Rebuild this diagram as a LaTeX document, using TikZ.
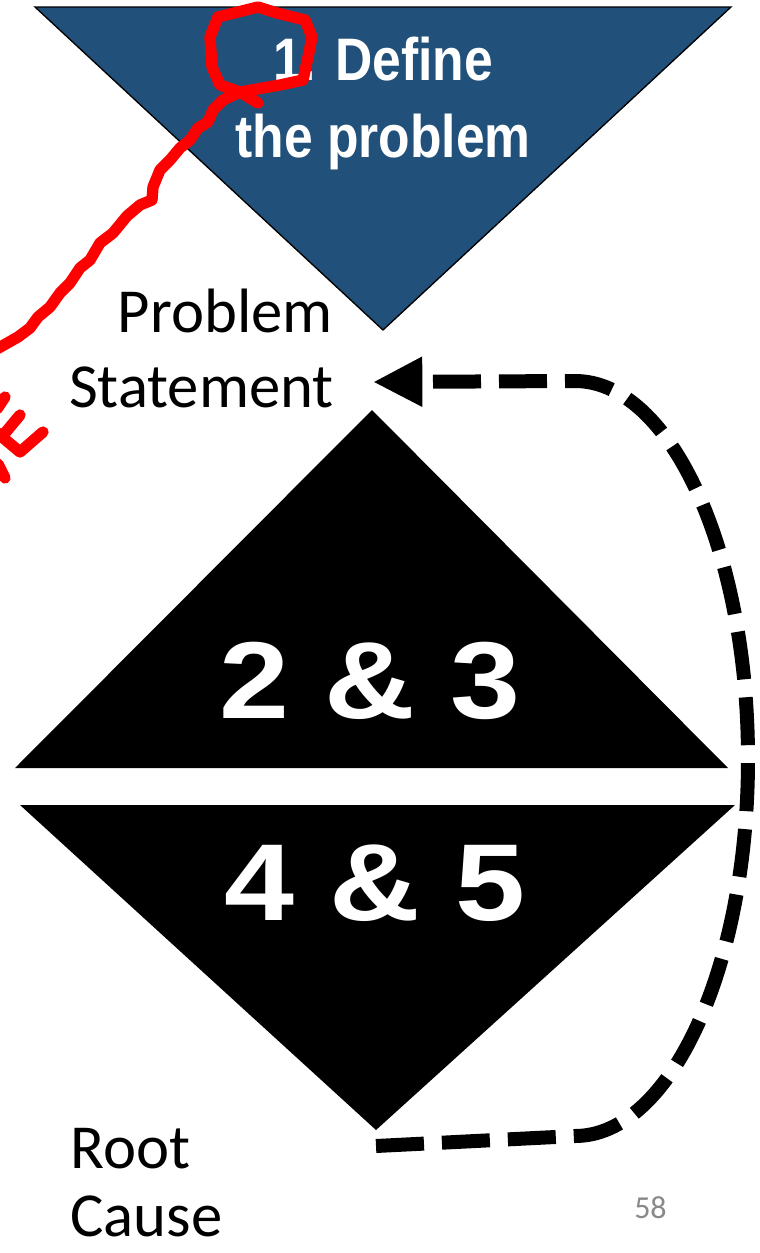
\documentclass[tikz,border=0pt]{standalone}
\usepackage{fontspec}
\setmainfont{Liberation Sans}
\newfontfamily\calib{Carlito}
\newfontfamily\arialf{Liberation Sans}
\usetikzlibrary{arrows.meta}
\definecolor{defblue}{RGB}{33,80,122}
\definecolor{pagegray}{RGB}{137,137,137}
\begin{document}
\begin{tikzpicture}[x=0.75pt,y=-0.75pt,
  bluetri/.style={fill=defblue,draw=black,line width=1pt},
  blacktri/.style={fill=black},
  bigtxt/.style={text=white,font=\arialf\bfseries\fontsize{82}{90}\selectfont,inner sep=0pt,anchor=base,xscale=1.15},
  toptxt/.style={text=white,font=\arialf\bfseries\fontsize{45}{54}\selectfont,inner sep=0pt,anchor=base,xscale=0.86},
  lbl/.style={font=\calib\fontsize{47}{56}\selectfont,inner sep=0pt},
  loopline/.style={line width=10.5pt,dash pattern=on 36pt off 13.5pt,-{Triangle[length=37pt,width=35pt]}},
  redink/.style={red,line width=8.5pt,line cap=round,line join=round}]
\useasboundingbox (0,0) rectangle (760,1253);
\clip (0,0) rectangle (760,1253);
\fill[white] (0,0) rectangle (760,1253);

% triangles
\draw[bluetri] (35,7) -- (731,7) -- (383,330) -- cycle;
\fill[blacktri] (372,410) -- (728,768) -- (15,768) -- cycle;
\fill[blacktri] (20,805) -- (735,805) -- (376,1130) -- cycle;

% texts
\node[toptxt] (def1) at (383,80) {1. Define};
\node[toptxt] (def2) at (383,157) {the problem};
\node[bigtxt] (s23) at (370,718) {2 \& 3};
\node[bigtxt] (s45) at (375,920) {4 \& 5};
\node[lbl,anchor=base east] (ps1) at (333,332) {Problem};
\node[lbl,anchor=base east] (ps2) at (334,407) {Statement};
\node[lbl,anchor=base west] (rc1) at (70,1168) {Root};
\node[lbl,anchor=base west] (rc2) at (70,1236) {Cause};
\node[font=\calib\fontsize{24}{28}\selectfont,text=pagegray,inner sep=0pt,anchor=base west] (pg) at (634,1218) {58};

% feedback loop
\coordinate (rcpt) at (376,1146);
\coordinate (pspt) at (373,382);
\draw[loopline] (rcpt) -- (575,1136)
  .. controls (670,1136) and (748,968) .. (748,759)
  .. controls (748,550) and (670,381) .. (575,381) -- (pspt);

% red annotation
\draw[redink] (258,103) -- (240,92) -- (220,85) -- (212,67) -- (210,37) -- (218,17) -- (258,7) -- (277,13) -- (305,20) -- (312,37) -- (308,57) -- (303,80) -- (280,85) -- (240,92) -- (223,100) -- (213,110) -- (208,122) -- (198,128) -- (190,140) -- (180,148) -- (170,160) -- (160,170) -- (153,187) -- (152,200) -- (140,205) -- (127,216) -- (113,233) -- (100,243) -- (90,260) -- (80,268) -- (70,283) -- (60,293) -- (50,307) -- (38,317) -- (30,328) -- (18,337) -- (-5,350);
\draw[redink] (-3,409) -- (5,397);
\draw[redink] (20,415) -- (5,433);
\draw[redink] (-5,431) -- (20,452) -- (43,432);
\draw[redink] (-2,464) -- (5,478);
\end{tikzpicture}
\end{document}
